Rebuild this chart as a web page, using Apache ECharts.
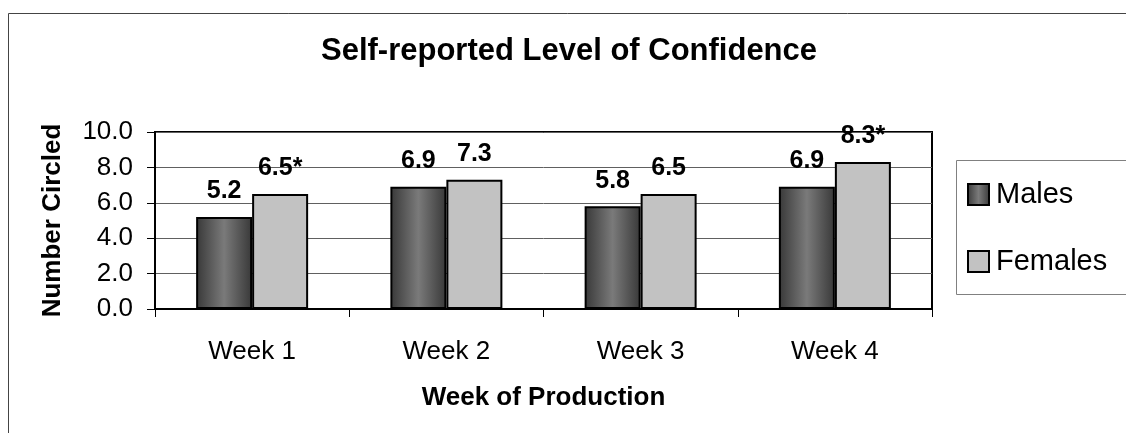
<!DOCTYPE html>
<html>
<head>
<meta charset="utf-8">
<script src="https://cdn.jsdelivr.net/npm/echarts@6/dist/echarts.min.js"></script>
<style>
  html, body { margin: 0; padding: 0; background: #fff; }
  #chart { width: 1126px; height: 433px; }
</style>
</head>
<body>
<div id="chart"></div>
<script>
// chart data
const weeks = ['Week 1', 'Week 2', 'Week 3', 'Week 4'];
const males = [5.2, 6.9, 5.8, 6.9];
const females = [6.5, 7.3, 6.5, 8.3];
const femaleSignificant = [true, false, false, true];
const yTicks = [0, 2, 4, 6, 8, 10];

const FONT = 'Arial, "Liberation Sans", sans-serif';

const chart = echarts.init(document.getElementById('chart'));

const labelStyle = {
    show: true,
    position: 'top',
    distance: 13,
    color: '#000',
    fontFamily: FONT,
    fontWeight: 'bold',
    fontSize: 25,
};

const option = {
    animation: false,
    backgroundColor: '#fff',
    textStyle: { fontFamily: FONT },
    title: {
        text: 'Self-reported Level of Confidence',
        left: 564,
        top: 31,
        textAlign: 'center',
        textStyle: {
            fontFamily: FONT,
            fontWeight: 'bold',
            fontSize: 31,
            color: '#000',
        },
    },
    graphic: [
        {
            // outer chart border
            type: 'rect',
            silent: true,
            shape: { x: 8.5, y: 13.5, width: 1200, height: 600 },
            style: { fill: 'none', stroke: '#444', lineWidth: 1 },
        },
        {
            // legend box
            type: 'rect',
            silent: true,
            shape: { x: 956.5, y: 160.5, width: 300, height: 134 },
            style: { fill: '#fff', stroke: '#808080', lineWidth: 1 },
        },
    ],
    legend: {
        orient: 'vertical',
        left: 967,
        top: 180,
        padding: 0,
        itemWidth: 21,
        itemHeight: 21,
        itemGap: 38,
        icon: 'rect',
        data: ['Males', 'Females'],
        textStyle: {
            fontFamily: FONT,
            fontSize: 29,
            lineHeight: 29,
            color: '#000',
            padding: [0, 0, 0, 2],
        },
    },
    grid: {
        left: 155,
        right: 194,
        top: 132,
        bottom: 124,
        show: true,
        borderColor: '#000',
        borderWidth: 2,
    },
    xAxis: {
        type: 'category',
        data: weeks,
        name: 'Week of Production',
        nameLocation: 'middle',
        nameGap: 76,
        nameTextStyle: {
            fontFamily: FONT,
            fontWeight: 'bold',
            fontSize: 26,
            color: '#000',
        },
        axisLine: { lineStyle: { color: '#000', width: 2 } },
        axisTick: { show: true, length: 8, lineStyle: { color: '#000', width: 1 } },
        axisLabel: {
            margin: 30,
            fontFamily: FONT,
            fontSize: 26,
            color: '#000',
        },
    },
    yAxis: {
        type: 'value',
        min: yTicks[0],
        max: yTicks[yTicks.length - 1],
        interval: yTicks[1] - yTicks[0],
        name: 'Number Circled',
        nameLocation: 'middle',
        nameGap: 89,
        nameTextStyle: {
            fontFamily: FONT,
            fontWeight: 'bold',
            fontSize: 26,
            color: '#000',
        },
        axisLine: { show: true, lineStyle: { color: '#000', width: 2 } },
        axisTick: { show: true, length: 8, lineStyle: { color: '#000', width: 1 } },
        axisLabel: {
            margin: 22,
            fontFamily: FONT,
            fontSize: 26,
            color: '#000',
            formatter: (v) => v.toFixed(1),
        },
        splitLine: { show: true, lineStyle: { color: '#606060', width: 1 } },
    },
    series: [
        {
            name: 'Males',
            type: 'bar',
            data: males,
            barWidth: 56,
            barGap: '0%',
            itemStyle: {
                color: new echarts.graphic.LinearGradient(0, 0, 1, 0, [
                    { offset: 0, color: '#383838' },
                    { offset: 0.5, color: '#7a7a7a' },
                    { offset: 1, color: '#383838' },
                ]),
                borderColor: '#000',
                borderWidth: 2,
            },
            label: {
                ...labelStyle,
                formatter: (p) => p.value.toFixed(1),
            },
        },
        {
            name: 'Females',
            type: 'bar',
            data: females,
            barWidth: 56,
            barGap: '0%',
            itemStyle: {
                color: '#c2c2c2',
                borderColor: '#000',
                borderWidth: 2,
            },
            label: {
                ...labelStyle,
                formatter: (p) => p.value.toFixed(1) + (femaleSignificant[p.dataIndex] ? '*' : ''),
            },
        },
    ],
};

chart.setOption(option);
</script>
</body>
</html>
